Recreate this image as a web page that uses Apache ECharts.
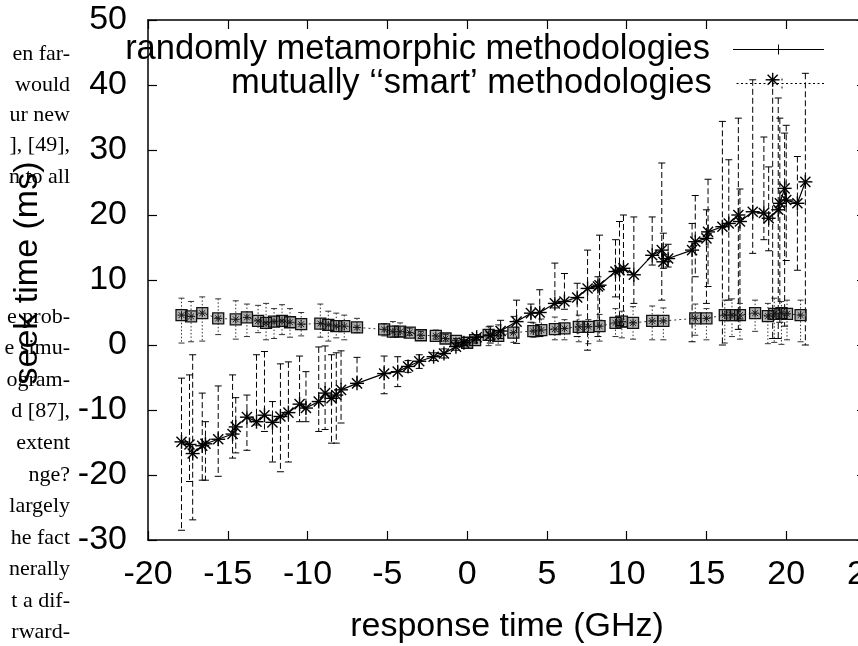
<!DOCTYPE html>
<html lang="en">
<head>
    <meta charset="UTF-8">
    <title>seek time vs response time</title>
    <script src="https://cdn.jsdelivr.net/npm/echarts@6/dist/echarts.min.js"></script>
</head>
<style>
    html, body { margin: 0; padding: 0; background: #fff; }
    #container { width: 858px; height: 646px; }
</style>
<body>
<div id="container"></div>
<script>
    // series A: "randomly metamorphic methodologies" (stars, solid line, dashed error bars)
    const aX  = [-17.9, -17.4, -17.2, -16.6, -16.4, -15.6, -14.7, -14.5, -13.8, -13.2, -12.7, -12.2, -11.7, -11.2, -10.5, -10.1, -9.3, -8.9, -8.5, -8.2, -7.9, -6.9, -5.2, -4.35, -3.7, -3.0, -2.1, -1.45, -0.7, -0.2, 0.6, 1.45, 2.1, 3.1, 4.0, 4.55, 5.5, 6.1, 6.9, 7.55, 8.2, 8.3, 9.3, 9.55, 9.8, 10.45, 11.6, 12.2, 12.3, 12.6, 14.1, 14.3, 15.0, 15.1, 16.0, 16.4, 17.0, 17.1, 17.9, 18.6, 18.9, 19.5, 19.6, 19.9, 20.0, 20.7, 21.2];
    const aY  = [-14.9, -15.3, -16.7, -15.5, -15.2, -14.5, -13.7, -12.6, -11.1, -11.8, -10.8, -11.9, -11.0, -10.4, -9.1, -9.7, -8.7, -7.4, -8.2, -7.7, -6.9, -5.9, -4.4, -4.1, -3.3, -2.5, -1.8, -1.3, -0.25, 0.35, 1.2, 1.5, 2.15, 3.6, 4.9, 5.0, 6.4, 6.7, 7.3, 8.7, 9.0, 9.2, 11.3, 11.5, 11.8, 10.8, 13.8, 14.6, 12.8, 13.3, 14.6, 15.9, 16.4, 17.4, 18.2, 18.7, 20.0, 19.0, 20.5, 20.3, 19.5, 20.8, 21.8, 24.1, 22.3, 21.8, 25.1];
    const aLo = [-28.5, -21.0, -26.9, -20.8, -20.8, -20.2, -17.4, -16.6, -16.2, -12.3, -13.3, -18.0, -19.5, -18.0, -11.8, -11.8, -13.3, -13.0, -15.1, -15.1, -12.0, -6.3, -7.5, -6.4, -4.2, -3.6, -2.4, -2.0, -0.8, -0.1, 0.8, 0.3, 1.0, 0.25, 3.5, 1.3, 5.7, 5.5, 1.3, -0.8, 1.3, 3.8, 7.4, 3.0, 2.8, 6.4, 12.3, 6.9, 11.8, 12.0, 0.5, 10.5, 6.4, 9.0, 0.0, 6.9, 2.4, 4.0, 14.1, 16.2, 14.5, 1.0, 3.5, 2.9, 13.0, 11.5, 0.0];
    const aHi = [-5.1, -4.6, -1.5, -7.4, -11.8, -6.3, -4.6, -8.1, -7.7, -1.5, -1.0, -8.7, -2.9, -2.6, -1.7, -4.1, -0.3, -0.15, -1.5, -1.2, -0.9, -1.9, -1.7, -1.8, -2.4, -1.5, -1.2, -0.6, 0.3, 0.8, 1.6, 2.9, 3.8, 6.9, 6.3, 8.5, 12.6, 11.0, 9.5, 14.6, 10.5, 16.9, 16.2, 19.0, 20.0, 19.7, 19.7, 28.0, 17.2, 15.5, 18.7, 23.0, 20.8, 25.5, 34.4, 28.5, 34.9, 24.0, 40.8, 32.0, 27.4, 38.0, 34.9, 32.6, 33.8, 29.0, 41.8];
    // lone star near the top of the plot
    const aOutX = [19.15], aOutY = [40.8], aOutLo = [1.0], aOutHi = [40.8];

    // series B: "mutually ''smart' methodologies" (boxes, dotted line, dotted error bars)
    const bX  = [-17.9, -17.3, -16.6, -15.6, -14.5, -13.8, -13.1, -12.6, -12.1, -11.6, -11.1, -10.4, -9.2, -8.7, -8.2, -7.7, -6.9, -5.2, -4.65, -4.2, -3.6, -2.9, -1.96, -1.35, -0.7, 0.0, 0.5, 1.35, 1.95, 2.9, 4.15, 4.65, 5.5, 6.1, 7.0, 7.6, 8.3, 9.3, 9.7, 10.4, 11.6, 12.3, 14.3, 15.0, 16.15, 16.6, 17.1, 18.05, 18.85, 19.25, 19.7, 20.05, 20.9];
    const bY  = [4.6, 4.4, 4.9, 4.1, 3.95, 4.25, 3.7, 3.4, 3.6, 3.7, 3.5, 3.2, 3.3, 3.1, 2.9, 2.9, 2.7, 2.4, 2.05, 2.05, 1.9, 1.5, 1.4, 1.0, 0.65, 0.35, 0.75, 1.55, 1.4, 1.9, 2.15, 2.3, 2.45, 2.55, 2.8, 2.8, 2.9, 3.4, 3.6, 3.4, 3.7, 3.7, 4.1, 4.1, 4.6, 4.6, 4.6, 4.9, 4.45, 4.8, 4.9, 4.8, 4.6];
    const bLo = [0.3, 0.5, 0.6, 1.6, 0.9, 1.3, 1.9, 0.8, 1.0, 1.6, 1.2, 1.4, 1.2, 0.6, 1.1, 0.8, 1.9, 1.4, 1.2, 1.3, 1.5, 1.0, 0.9, 0.6, 0.2, 0.0, 0.3, -0.1, 0.0, 0.4, 1.2, 1.4, 0.8, 0.8, 0.5, 0.2, 0.6, 1.3, 1.1, 0.9, 0.8, 0.8, 1.5, 0.8, 0.3, 1.3, 0.9, 2.1, 0.2, 0.4, 0.1, 0.8, 0.5];
    const bHi = [7.2, 6.7, 7.4, 7.1, 6.8, 6.3, 6.1, 6.4, 5.6, 6.2, 5.6, 5.0, 6.3, 5.2, 4.9, 4.6, 4.1, 3.3, 3.6, 3.4, 2.6, 2.1, 2.3, 1.6, 1.0, 0.7, 1.2, 2.8, 3.1, 4.4, 3.4, 4.0, 4.3, 3.9, 4.6, 3.9, 4.7, 5.6, 5.2, 5.9, 6.0, 5.7, 6.3, 5.6, 6.9, 7.1, 6.4, 6.9, 6.4, 7.2, 6.7, 6.9, 6.9];

    const nameA = 'randomly metamorphic methodologies';
    const nameB = 'mutually \u2018\u2018smart\u2019 methodologies';

    // scraps of the surrounding paper text at the left edge
    const paperLines = ['en far-', 'would', 'ur new', '], [49],', 'n to all',
        'e prob-', 'e simu-', 'ogram-', 'd [87],', 'extent', 'nge?', 'largely',
        'he fact', 'nerally', 't a dif-', 'rward-'];
    const paperY = [55, 86, 116, 146, 178, 318, 349, 381, 412, 444, 476, 507, 539, 570, 602, 633];

    const FONT = 'Liberation Sans';

    var chart = echarts.init(document.getElementById('container'));

    function errorBars(dash, color, cap) {
        return function (params, api) {
            var x = api.value(0);
            var top = api.coord([x, api.value(2)]);
            var bot = api.coord([x, api.value(1)]);
            return {
                type: 'group',
                children: [
                    {type: 'line', shape: {x1: top[0], y1: top[1], x2: bot[0], y2: bot[1]},
                        style: {stroke: color, lineWidth: 1, lineDash: dash}},
                    {type: 'line', shape: {x1: top[0] - cap, y1: top[1], x2: top[0] + cap, y2: top[1]},
                        style: {stroke: color, lineWidth: 1}},
                    {type: 'line', shape: {x1: bot[0] - cap, y1: bot[1], x2: bot[0] + cap, y2: bot[1]},
                        style: {stroke: color, lineWidth: 1}}
                ]
            };
        };
    }

    function starLines(cx, cy, r, color, w) {
        var d = r * 0.72;
        var st = {stroke: color, lineWidth: w};
        return [
            {type: 'line', shape: {x1: cx - r, y1: cy, x2: cx + r, y2: cy}, style: st},
            {type: 'line', shape: {x1: cx, y1: cy - r, x2: cx, y2: cy + r}, style: st},
            {type: 'line', shape: {x1: cx - d, y1: cy - d, x2: cx + d, y2: cy + d}, style: st},
            {type: 'line', shape: {x1: cx - d, y1: cy + d, x2: cx + d, y2: cy - d}, style: st}
        ];
    }

    function starGlyph(params, api) {
        var p = api.coord([api.value(0), api.value(1)]);
        return {type: 'group', children: starLines(p[0], p[1], 7, '#000', 1.4)};
    }

    function boxGlyph(params, api) {
        var p = api.coord([api.value(0), api.value(1)]);
        var kids = starLines(p[0], p[1], 4, '#222', 1);
        kids.push({type: 'rect', shape: {x: p[0] - 5.5, y: p[1] - 5.5, width: 11, height: 11},
            style: {stroke: '#111', lineWidth: 1.3, fill: 'rgba(0,0,0,0.3)'}});
        return {type: 'group', children: kids};
    }

    function rows4(x, lo, hi) {
        return x.map(function (v, i) { return [v, lo[i], hi[i]]; });
    }
    function pairs(x, y) {
        return x.map(function (v, i) { return [v, y[i]]; });
    }

    // legend samples, drawn as filled paths 91 x 10
    var iconA = 'path://M0,4.5H91V5.5H0Z M45,0H46V10H45Z';
    var iconB = 'path://M45,0H46V2H45Z M45,8H46V10H45Z';
    for (var dx = 0; dx + 2 <= 91; dx += 4.5) {
        iconB += ' M' + dx + ',4.5H' + (dx + 2) + 'V5.5H' + dx + 'Z';
    }

    var legendText = {fontSize: 34.5, fontFamily: FONT, color: '#000', lineHeight: 34, padding: [0, 18, 0, 0]};

    var axisLineStyle = {onZero: false, lineStyle: {color: '#000', width: 1.5}};
    var tickStyle = {inside: true, length: 9, lineStyle: {color: '#000', width: 1.2}};

    var option = {
        animation: false,
        grid: {left: 148, top: 20, width: 718, height: 520, containLabel: false, outerBoundsMode: 'none'},
        legend: [
            {data: [{name: nameA, icon: iconA}], orient: 'vertical', align: 'right', right: 34, top: 32,
                padding: 0, itemGap: 0, itemWidth: 91, itemHeight: 10, selectedMode: false,
                itemStyle: {color: '#000', borderWidth: 0}, textStyle: legendText},
            {data: [{name: nameB, icon: iconB}], orient: 'vertical', align: 'right', right: 34, top: 66,
                padding: 0, itemGap: 0, itemWidth: 91, itemHeight: 10, selectedMode: false,
                itemStyle: {color: '#000', borderWidth: 0}, textStyle: legendText}
        ],
        xAxis: [
            {
                type: 'value', min: -20, max: 25, interval: 5, position: 'bottom',
                name: 'response time (GHz)', nameLocation: 'middle', nameGap: 70,
                nameTextStyle: {fontSize: 34, fontFamily: FONT, color: '#000'},
                axisLine: axisLineStyle, axisTick: tickStyle,
                axisLabel: {fontSize: 34, fontFamily: FONT, color: '#000', margin: 18, showMaxLabel: true},
                splitLine: {show: false}
            },
            {
                type: 'value', min: -20, max: 25, interval: 5, position: 'top',
                axisLine: axisLineStyle, axisTick: tickStyle,
                axisLabel: {show: false}, splitLine: {show: false}
            }
        ],
        yAxis: [
            {
                type: 'value', min: -30, max: 50, interval: 10, position: 'left',
                name: 'seek time (ms)', nameLocation: 'middle', nameGap: 103,
                nameTextStyle: {fontSize: 34, fontFamily: FONT, color: '#000', padding: [0, 0, 0, 14]},
                axisLine: axisLineStyle, axisTick: tickStyle,
                axisLabel: {fontSize: 34, fontFamily: FONT, color: '#000', margin: 21},
                splitLine: {show: false}
            },
            {
                type: 'value', min: -30, max: 50, interval: 10, position: 'right',
                axisLine: axisLineStyle, axisTick: tickStyle,
                axisLabel: {show: false}, splitLine: {show: false}
            }
        ],
        graphic: paperLines.map(function (t, i) {
            return {
                type: 'text', right: 858 - 70, top: paperY[i] - 12,
                style: {text: t, font: '22px "Liberation Serif"', fill: '#000'}
            };
        }),
        series: [
            {
                type: 'custom', name: 'errB', renderItem: errorBars([1.5, 2], '#333', 3),
                data: rows4(bX, bLo, bHi), encode: {x: 0, y: [1, 2]}, z: 1, silent: true
            },
            {
                type: 'custom', name: 'errA', renderItem: errorBars([6, 3], '#000', 3.5),
                data: rows4(aX, aLo, aHi).concat(rows4(aOutX, aOutLo, aOutHi)), encode: {x: 0, y: [1, 2]}, z: 2, silent: true
            },
            {
                type: 'line', name: nameB, data: pairs(bX, bY), symbol: 'none', z: 3,
                lineStyle: {color: '#333', width: 1, type: [2, 3]}, itemStyle: {color: '#000'}
            },
            {
                type: 'line', name: nameA, data: pairs(aX, aY), symbol: 'none', z: 4,
                lineStyle: {color: '#000', width: 1.2, type: 'solid'}, itemStyle: {color: '#000'}
            },
            {
                type: 'custom', name: 'ptsB', renderItem: boxGlyph,
                data: pairs(bX, bY), encode: {x: 0, y: 1}, z: 5, silent: true
            },
            {
                type: 'custom', name: 'ptsA', renderItem: starGlyph,
                data: pairs(aX, aY).concat(pairs(aOutX, aOutY)), encode: {x: 0, y: 1}, z: 6, silent: true
            }
        ]
    };

    chart.setOption(option);
</script>
</body>
</html>
